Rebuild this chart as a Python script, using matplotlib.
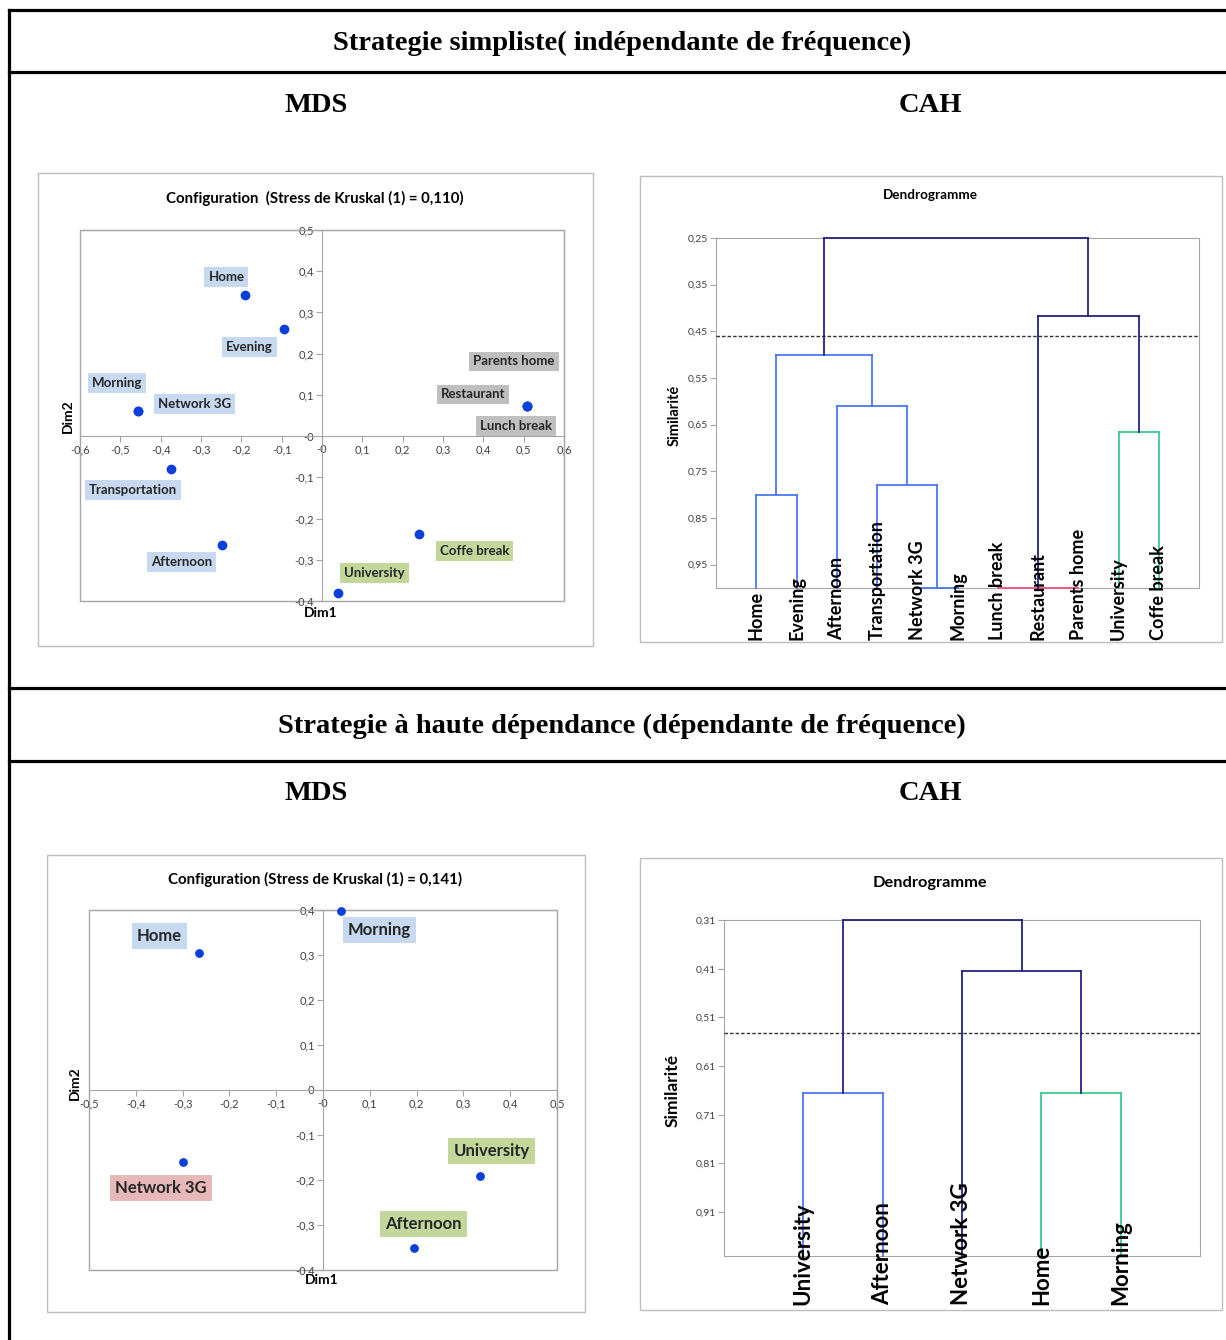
import numpy as np
import matplotlib
matplotlib.use('Agg')
import matplotlib.pyplot as plt
from matplotlib.patches import Rectangle
from matplotlib.lines import Line2D
from matplotlib.ticker import FuncFormatter
import matplotlib.transforms as mtransforms

W, H = 1226, 1340

# MDS - strategie simpliste
mds1_names = ['Home', 'Evening', 'Morning', 'Network 3G', 'Transportation', 'Afternoon',
              'University', 'Coffe break', 'Parents home', 'Restaurant', 'Lunch break']
mds1_x = [-0.191, -0.093, -0.456, -0.456, -0.374, -0.248, 0.040, 0.240, 0.509, 0.509, 0.509]
mds1_y = [0.342, 0.261, 0.062, 0.062, -0.079, -0.263, -0.381, -0.237, 0.073, 0.073, 0.073]
mds1_group = ['blue', 'blue', 'blue', 'blue', 'blue', 'blue', 'green', 'green', 'gray', 'gray', 'gray']

# MDS - haute dependance
mds2_names = ['Home', 'Morning', 'Network 3G', 'University', 'Afternoon']
mds2_x = [-0.264, 0.038, -0.299, 0.335, 0.194]
mds2_y = [0.304, 0.398, -0.161, -0.190, -0.352]
mds2_group = ['blue', 'blue', 'pink', 'green', 'green']

# CAH - leaves and merges (children, similarity, colour)
cah1_leaves = ['Home', 'Evening', 'Afternoon', 'Transportation', 'Network 3G', 'Morning',
               'Lunch break', 'Restaurant', 'Parents home', 'University', 'Coffe break']
cah1_merges = [([4, 5], 1.0, 'blue'),
               ([6, 7, 8], 1.0, 'pink'),
               ([0, 1], 0.800, 'blue'),
               ([3, 11], 0.779, 'blue'),
               ([2, 14], 0.609, 'blue'),
               ([9, 10], 0.666, 'green'),
               ([13, 15], 0.501, 'blue'),
               ([12, 16], 0.417, 'navy'),
               ([17, 18], 0.25, 'navy')]
cah1_cut = 0.459
cah1_ticks = [0.25, 0.35, 0.45, 0.55, 0.65, 0.75, 0.85, 0.95]

cah2_leaves = ['University', 'Afternoon', 'Network 3G', 'Home', 'Morning']
cah2_merges = [([0, 1], 0.665, 'blue'),
               ([3, 4], 0.665, 'green'),
               ([2, 6], 0.415, 'navy'),
               ([5, 7], 0.31, 'navy')]
cah2_cut = 0.542
cah2_ticks = [0.31, 0.41, 0.51, 0.61, 0.71, 0.81, 0.91]

box_col = {'blue': '#c6d9f1', 'gray': '#bfbfbf', 'green': '#c4d79b', 'pink': '#e6b8b7'}
line_col = {'blue': '#4a78f5', 'navy': '#22227f', 'green': '#3cc98e', 'pink': '#f0507e'}
pt_col = '#0b3fdc'
grey = '#a6a6a6'

plt.rcParams['font.family'] = ['Lato', 'DejaVu Sans']

fig = plt.figure(figsize=(W / 100, H / 100), dpi=100)


def rect(x0, y0, x1, y1):
    return [x0 / W, 1 - y1 / H, (x1 - x0) / W, (y1 - y0) / H]


def ftext(x, y, s, **kw):
    fig.text(x / W, 1 - y / H, s, **kw)


def hline(y, x0=9, x1=W, lw=2.3):
    fig.add_artist(Line2D([x0 / W, x1 / W], [1 - y / H, 1 - y / H], color='black', lw=lw))


def chart_box(x0, y0, x1, y1):
    fig.add_artist(Rectangle((x0 / W, 1 - y1 / H), (x1 - x0) / W, (y1 - y0) / H,
                             fill=False, ec='#bdbdbd', lw=1.0))


comma = FuncFormatter(lambda v, p: ('%g' % round(v, 2)).replace('.', ','))

# table lines
for yy in [10, 72, 688, 761]:
    hline(yy)
fig.add_artist(Line2D([9 / W, 9 / W], [1 - 10 / H, 0], color='black', lw=2.3))

serif = dict(family='Liberation Serif', fontweight='bold', ha='center', va='center')
ftext(622, 43, 'Strategie simpliste( indépendante de fréquence)', fontsize=20.5, **serif)
ftext(622, 726, 'Strategie à haute dépendance (dépendante de fréquence)', fontsize=20.5, **serif)
for yy in [105, 793]:
    ftext(316, yy, 'MDS', fontsize=20.5, **serif)
    ftext(930, yy, 'CAH', fontsize=20.5, **serif)


def draw_mds(area, box, xlim, ylim, xs, ys, names, groups, labpos, title, tpos, lab_fs, tick_fs, dim_pos, ms):
    chart_box(*box)
    ax = fig.add_axes(rect(*area))
    ax.set_xlim(*xlim)
    ax.set_ylim(*ylim)
    for s in ['top', 'right']:
        ax.spines[s].set_color(grey)
    ax.spines['left'].set_position(('data', 0))
    ax.spines['bottom'].set_position(('data', 0))
    ax.spines['left'].set_color(grey)
    ax.spines['bottom'].set_color(grey)
    ax.add_patch(Rectangle((0, 0), 1, 1, transform=ax.transAxes, fill=False, ec=grey, lw=1, clip_on=False))
    ax.set_xticks(np.arange(xlim[0], xlim[1] + 0.01, 0.1))
    ax.set_yticks(np.arange(ylim[0], ylim[1] + 0.01, 0.1))
    ax.xaxis.set_major_formatter(comma)
    ax.yaxis.set_major_formatter(comma)
    ax.tick_params(length=4, width=0.8, color=grey, labelsize=tick_fs, pad=2, labelcolor='#404040')
    ax.scatter(xs, ys, s=ms, color=pt_col, zorder=5, clip_on=False)
    for n, g, (lx, ly) in zip(names, groups, labpos):
        ax.text(lx, ly, n, fontsize=lab_fs, fontweight='bold', ha='center', va='center', color='#262626',
                bbox=dict(boxstyle='square,pad=0.3', fc=box_col[g], ec='none'))
    ftext(tpos[0], tpos[1], title, fontsize=10.8, fontweight='bold', ha='center', va='center')
    ftext(dim_pos[0][0], dim_pos[0][1], 'Dim1', fontsize=10, fontweight='bold', ha='center', va='center')
    ftext(dim_pos[1][0], dim_pos[1][1], 'Dim2', fontsize=10, fontweight='bold', ha='center',
          va='center', rotation=90)
    return ax


mds1_lab = [(-0.237, 0.387), (-0.180, 0.217), (-0.509, 0.129), (-0.317, 0.079), (-0.468, -0.131),
            (-0.348, -0.306), (0.130, -0.331), (0.378, -0.279), (0.476, 0.181), (0.375, 0.101), (0.481, 0.024)]
draw_mds((80, 230, 564, 601), (38, 173, 593, 646), (-0.6, 0.6), (-0.4, 0.5), mds1_x, mds1_y, mds1_names,
         mds1_group, mds1_lab, 'Configuration  (Stress de Kruskal (1) = 0,110)', (315, 198), 9.5, 8,
         [(321, 613), (68, 416)], 36)

mds2_lab = [(-0.350, 0.342), (0.121, 0.355), (-0.346, -0.217), (0.360, -0.136), (0.215, -0.298)]
draw_mds((89, 910, 557, 1270), (47, 855, 585, 1312), (-0.5, 0.5), (-0.4, 0.4), mds2_x, mds2_y, mds2_names,
         mds2_group, mds2_lab, 'Configuration (Stress de Kruskal (1) = 0,141)', (315, 879), 12, 8,
         [(322, 1280), (75, 1083)], 28)


def draw_cah(area, box, leaves, merges, cut, ticks, ylim, tpos, title_fs, leaf_fs, leaf_y, sim_pos, sim_fs):
    chart_box(*box)
    ax = fig.add_axes(rect(*area))
    n = len(leaves)
    ax.set_xlim(0, n + 1)
    ax.set_ylim(ylim[1], ylim[0])
    for s in ax.spines.values():
        s.set_color(grey)
    ax.set_xticks([])
    ax.set_yticks(ticks)
    ax.yaxis.set_major_formatter(comma)
    ax.tick_params(length=4, width=0.8, color=grey, labelsize=7.5, pad=2, labelcolor='#404040')
    pos = {i: i + 1 for i in range(n)}
    hgt = {i: 1.0 for i in range(n)}
    for k, (kids, h, c) in enumerate(merges):
        xs = [pos[j] for j in kids]
        ax.plot([min(xs), max(xs)], [h, h], color=line_col[c], lw=1.3, zorder=4, clip_on=False)
        for j in kids:
            ax.plot([pos[j], pos[j]], [hgt[j], h], color=line_col[c], lw=1.3, zorder=4, clip_on=False)
        pos[n + k] = np.mean(xs)
        hgt[n + k] = h
    ax.axhline(cut, color='#303030', lw=1.0, ls=(0, (2.5, 1.5)), zorder=3)
    tr = mtransforms.blended_transform_factory(ax.transData, ax.transAxes)
    for i, name in enumerate(leaves):
        ax.text(i + 1, leaf_y, name, rotation=90, ha='center', va='bottom', fontsize=leaf_fs,
                fontweight='bold', transform=tr, zorder=6)
    ax.text(sim_pos[0], sim_pos[1], 'Similarité', rotation=90, ha='center', va='center', fontsize=sim_fs,
            fontweight='bold', transform=ax.transAxes)
    ftext(tpos[0], tpos[1], 'Dendrogramme', fontsize=title_fs, fontweight='bold', ha='center', va='center')
    return ax


draw_cah((716, 238, 1199, 588), (640, 176, 1222, 642), cah1_leaves, cah1_merges, cah1_cut, cah1_ticks,
         (0.25, 1.0), (930, 195), 9.7, 13, -0.149, (-0.085, 0.494), 10.5)
draw_cah((724, 920, 1200, 1256), (640, 858, 1222, 1310), cah2_leaves, cah2_merges, cah2_cut, cah2_ticks,
         (0.31, 1.0), (930, 883), 11.8, 16, -0.146, (-0.107, 0.494), 12.5)

fig.savefig('out.png', dpi=100)
